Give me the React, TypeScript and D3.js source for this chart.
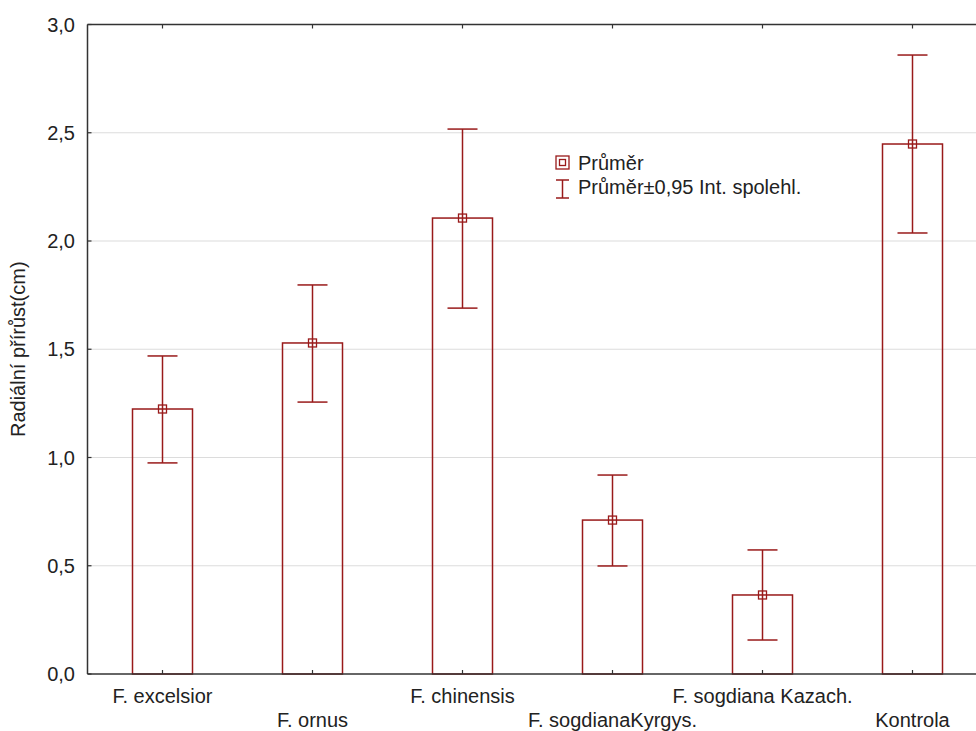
import React from "react";
import * as d3 from "d3";

const categories = ["F. excelsior", "F. ornus", "F. chinensis", "F. sogdianaKyrgys.", "F. sogdiana Kazach.", "Kontrola"];
const means = [1.224, 1.529, 2.106, 0.711, 0.365, 2.448];
const lowers = [0.975, 1.256, 1.69, 0.499, 0.157, 2.037];
const uppers = [1.469, 1.797, 2.517, 0.919, 0.573, 2.859];
const yTicks = [0, 0.5, 1.0, 1.5, 2.0, 2.5, 3.0];
const yLabel = "Radiální přírůst(cm)";
const legendMean = "Průměr";
const legendCI = "Průměr±0,95 Int. spolehl.";

const W = 976, H = 731;
const left = 87.5, top = 24.5, bottom = 674;
const right = left + 150 * categories.length;
const RED = "#991a1a";
const FONT = "'Liberation Sans', Arial, sans-serif";
const FS = 20;

export default function App() {
  const x = d3.scaleBand<string>().domain(categories).range([left, right]).paddingInner(0).paddingOuter(0);
  const y = d3.scaleLinear().domain([0, 3]).range([bottom, top]);
  const cx = (c: string) => (x(c) as number) + x.bandwidth() / 2;
  const barHalf = 30;
  const capHalf = 15;
  const fmt = (v: number) => v.toFixed(1).replace(".", ",");
  return (
    <div style={{ position: "fixed", left: 0, top: 0, width: W, height: H, background: "#fff" }}>
      <svg width={W} height={H} style={{ display: "block" }} fontFamily={FONT}>
        <rect width={W} height={H} fill="#fff" />
        {yTicks.slice(1, -1).map((t) => (
          <line key={"g" + t} x1={left} x2={W} y1={y(t)} y2={y(t)} stroke="#dcdcdc" strokeWidth={1.2} />
        ))}
        {categories.map((c, i) => (
          <g key={c}>
            <rect x={cx(c) - barHalf} y={y(means[i])} width={barHalf * 2} height={bottom - y(means[i])} fill="none" stroke={RED} strokeWidth={1.5} />
            <line x1={cx(c)} x2={cx(c)} y1={y(uppers[i])} y2={y(lowers[i])} stroke={RED} strokeWidth={1.5} />
            <line x1={cx(c) - capHalf} x2={cx(c) + capHalf} y1={y(uppers[i])} y2={y(uppers[i])} stroke={RED} strokeWidth={1.5} />
            <line x1={cx(c) - capHalf} x2={cx(c) + capHalf} y1={y(lowers[i])} y2={y(lowers[i])} stroke={RED} strokeWidth={1.5} />
            <rect x={cx(c) - 4} y={y(means[i]) - 4} width={8} height={8} fill="none" stroke={RED} strokeWidth={1.3} />
          </g>
        ))}
        <line x1={left} x2={W} y1={top} y2={top} stroke="#333" strokeWidth={1.5} />
        <line x1={left} x2={W} y1={bottom} y2={bottom} stroke="#333" strokeWidth={1.5} />
        <line x1={left} x2={left} y1={top} y2={bottom} stroke="#333" strokeWidth={1.5} />
        {yTicks.map((t) => (
          <g key={"t" + t}>
            <line x1={left} x2={left + 4} y1={y(t)} y2={y(t)} stroke="#333" strokeWidth={1.2} />
            <text x={75} y={y(t) + 7} textAnchor="end" fontSize={FS} fill="#222">{fmt(t)}</text>
          </g>
        ))}
        {categories.map((c, i) => (
          <g key={"x" + c}>
            <line x1={cx(c)} x2={cx(c)} y1={bottom} y2={bottom - 4} stroke="#333" strokeWidth={1.2} />
            <line x1={cx(c)} x2={cx(c)} y1={top} y2={top + 4} stroke="#333" strokeWidth={1.2} />
            <text x={cx(c)} y={i % 2 === 0 ? 703 : 727} textAnchor="middle" fontSize={FS} fill="#222">{c}</text>
          </g>
        ))}
        <text transform={`translate(25,${(top + bottom) / 2}) rotate(-90)`} textAnchor="middle" fontSize={FS} fill="#222">{yLabel}</text>
        <g>
          <rect x={556} y={156} width={13} height={13} fill="none" stroke={RED} strokeWidth={1.3} />
          <rect x={559.5} y={159.5} width={6} height={6} fill="none" stroke={RED} strokeWidth={1.3} />
          <text x={578} y={170} fontSize={FS} fill="#222">{legendMean}</text>
          <line x1={562.5} x2={562.5} y1={180} y2={198} stroke={RED} strokeWidth={1.5} />
          <line x1={556} x2={569} y1={180} y2={180} stroke={RED} strokeWidth={1.5} />
          <line x1={556} x2={569} y1={198} y2={198} stroke={RED} strokeWidth={1.5} />
          <text x={578} y={194} fontSize={FS} fill="#222">{legendCI}</text>
        </g>
      </svg>
    </div>
  );
}
